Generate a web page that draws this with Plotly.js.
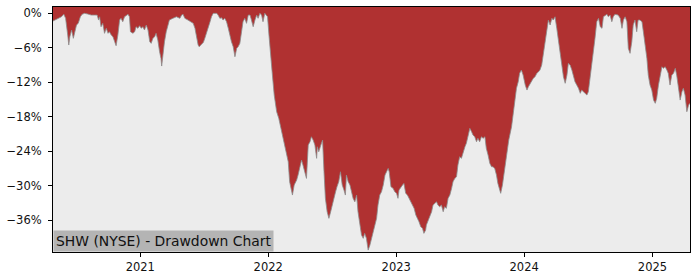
<!DOCTYPE html>
<html>
<head>
<meta charset="utf-8">
<script src="https://cdn.plot.ly/plotly-3.0.1.min.js"></script>
<style>html,body{margin:0;padding:0;background:#fff;}#chart{width:700px;height:280px;}</style>
</head>
<body>
<div id="chart"></div>
<script>
// Drawdown of SHW (NYSE), percent below running peak
const dates = [
"2020-04-27","2020-05-02","2020-05-11","2020-05-21","2020-05-28","2020-06-02","2020-06-08","2020-06-11","2020-06-14","2020-06-19",
"2020-06-24","2020-06-28","2020-07-03","2020-07-08","2020-07-14","2020-07-19","2020-07-26","2020-08-04","2020-08-14","2020-08-24",
"2020-08-31","2020-09-04","2020-09-07","2020-09-11","2020-09-16","2020-09-21","2020-09-26","2020-10-01","2020-10-05","2020-10-10",
"2020-10-15","2020-10-20","2020-10-24","2020-10-29","2020-11-03","2020-11-07","2020-11-12","2020-11-17","2020-11-22","2020-11-27",
"2020-12-01","2020-12-04","2020-12-11","2020-12-16","2020-12-20","2020-12-25","2020-12-30",
"2021-01-04","2021-01-08","2021-01-13","2021-01-18","2021-01-23","2021-01-28","2021-02-01","2021-02-06","2021-02-11","2021-02-15",
"2021-02-20","2021-02-25","2021-03-01","2021-03-03","2021-03-06","2021-03-11","2021-03-16","2021-03-21","2021-03-25","2021-04-04",
"2021-04-14","2021-04-24","2021-04-29","2021-05-03","2021-05-08","2021-05-17","2021-05-27","2021-06-01","2021-06-06","2021-06-10",
"2021-06-15","2021-06-18","2021-06-25","2021-06-30","2021-07-04","2021-07-09","2021-07-14","2021-07-19","2021-07-23","2021-07-28",
"2021-08-02","2021-08-07","2021-08-11","2021-08-16","2021-08-21","2021-08-25","2021-08-30","2021-09-04","2021-09-09","2021-09-13",
"2021-09-18","2021-09-23","2021-09-28","2021-10-03","2021-10-07","2021-10-12","2021-10-17","2021-10-21","2021-10-26","2021-10-31",
"2021-11-05","2021-11-10","2021-11-14","2021-11-19","2021-11-24","2021-11-29","2021-12-03","2021-12-08","2021-12-13","2021-12-17",
"2021-12-22","2021-12-27","2021-12-30",
"2022-01-03","2022-01-08","2022-01-12","2022-01-18","2022-01-25","2022-01-31","2022-02-06","2022-02-12","2022-02-17","2022-02-22",
"2022-02-27","2022-03-03","2022-03-08","2022-03-11","2022-03-16","2022-03-23","2022-03-27","2022-04-01","2022-04-06","2022-04-10",
"2022-04-15","2022-04-20","2022-04-25","2022-04-30","2022-05-04","2022-05-09","2022-05-14","2022-05-19","2022-05-21","2022-05-25",
"2022-05-31","2022-06-05","2022-06-09","2022-06-13","2022-06-18","2022-06-23","2022-06-28","2022-07-02","2022-07-07","2022-07-12",
"2022-07-16","2022-07-21","2022-07-26","2022-07-31","2022-08-05","2022-08-09","2022-08-12","2022-08-17","2022-08-22","2022-08-26",
"2022-08-31","2022-09-05","2022-09-10","2022-09-14","2022-09-19","2022-09-24","2022-09-29","2022-10-03","2022-10-08","2022-10-13",
"2022-10-18","2022-10-23","2022-10-27","2022-11-01","2022-11-06","2022-11-10","2022-11-15","2022-11-20","2022-11-25","2022-11-30",
"2022-12-04","2022-12-09","2022-12-12","2022-12-17","2022-12-23","2022-12-28",
"2023-01-02","2023-01-06","2023-01-09","2023-01-14","2023-01-19","2023-01-23","2023-01-28","2023-02-02","2023-02-07","2023-02-11",
"2023-02-16","2023-02-21","2023-02-26","2023-03-03","2023-03-07","2023-03-12","2023-03-17","2023-03-21","2023-03-26","2023-03-28",
"2023-04-02","2023-04-07","2023-04-12","2023-04-16","2023-04-21","2023-04-26","2023-04-30","2023-05-05","2023-05-10","2023-05-15",
"2023-05-19","2023-05-24","2023-05-29","2023-06-03","2023-06-08","2023-06-12","2023-06-17","2023-06-22","2023-06-26","2023-07-01",
"2023-07-06","2023-07-11","2023-07-16","2023-07-20","2023-07-25","2023-07-30","2023-08-04","2023-08-08","2023-08-13","2023-08-18",
"2023-08-22","2023-08-27","2023-09-01","2023-09-06","2023-09-11","2023-09-15","2023-09-20","2023-09-25","2023-09-30","2023-10-04",
"2023-10-09","2023-10-14","2023-10-18","2023-10-23","2023-10-26","2023-10-31","2023-11-05","2023-11-10","2023-11-18","2023-11-26",
"2023-12-05","2023-12-10","2023-12-15","2023-12-19","2023-12-24","2023-12-29",
"2024-01-04","2024-01-09","2024-01-13","2024-01-18","2024-01-23","2024-01-27","2024-02-01","2024-02-06","2024-02-11","2024-02-15",
"2024-02-20","2024-02-25","2024-03-01","2024-03-06","2024-03-10","2024-03-15","2024-03-20","2024-03-24","2024-03-29","2024-04-03",
"2024-04-08","2024-04-13","2024-04-17","2024-04-22","2024-04-27","2024-05-02","2024-05-06","2024-05-11","2024-05-16","2024-05-20",
"2024-05-25","2024-05-30","2024-06-04","2024-06-09","2024-06-13","2024-06-18","2024-06-23","2024-06-28","2024-07-02","2024-07-07",
"2024-07-12","2024-07-17","2024-07-21","2024-07-26","2024-07-31","2024-08-05","2024-08-10","2024-08-14","2024-08-19","2024-08-24",
"2024-08-28","2024-09-02","2024-09-07","2024-09-11","2024-09-16","2024-09-21","2024-09-25","2024-10-01","2024-10-06","2024-10-10",
"2024-10-15","2024-10-20","2024-10-24","2024-10-29","2024-11-03","2024-11-07","2024-11-12","2024-11-17","2024-11-21","2024-11-26",
"2024-12-02","2024-12-06","2024-12-11","2024-12-16","2024-12-20","2024-12-25","2024-12-30",
"2025-01-04","2025-01-09","2025-01-13","2025-01-18","2025-01-23","2025-01-28","2025-02-01","2025-02-06","2025-02-11","2025-02-15",
"2025-02-20","2025-02-25","2025-03-02","2025-03-07","2025-03-11","2025-03-16","2025-03-21","2025-03-26","2025-03-30","2025-04-04",
"2025-04-09","2025-04-14","2025-04-18"
];
const drawdown = [
-1.34,-1.17,-0.99,-0.60,-0.17,-0.87,-3.77,-5.51,-4.07,-2.90,
-4.35,-3.48,-2.03,-1.74,-0.60,-0.17,0,-0.12,-0.30,-0.30,
-0.30,-1.17,-0.60,-2.33,-1.74,-3.48,-2.61,-3.48,-3.20,-3.77,
-4.07,-4.94,-5.63,-3.77,-1.17,-0.87,-1.46,-0.60,-0.30,-0.17,
-0.60,-3.20,-3.48,-3.20,-2.33,-2.61,-2.16,
-2.61,-2.33,-2.90,-2.03,-2.90,-4.94,-5.22,-4.35,-4.07,-3.48,
-4.64,-6.68,-7.83,-9.17,-7.25,-4.94,-3.20,-2.03,-1.17,-0.87,
-0.60,-0.87,-0.30,-0.17,-0.87,-1.17,-1.46,-1.74,-2.61,-4.07,
-5.51,-5.81,-5.39,-5.04,-4.35,-3.48,-2.61,-1.46,-0.60,0,
0,0,-0.30,-0.87,-0.77,-1.17,-0.87,-1.46,-2.61,-3.77,
-4.94,-5.81,-7.55,-6.09,-5.81,-5.22,-3.20,-1.46,-0.87,-1.74,
-0.30,-0.30,-1.17,-2.33,-1.17,-0.30,-0.87,0,-0.30,-1.46,
0,-0.30,-0.60,
-3.77,-6.68,-10.16,-14.21,-17.11,-18.26,-20.00,-21.74,-23.48,-24.94,
-25.81,-29.29,-31.03,-31.60,-29.86,-28.99,-28.12,-26.96,-25.51,-26.38,
-27.55,-28.70,-22.90,-22.33,-21.46,-22.03,-22.90,-25.22,-23.20,-24.07,
-22.90,-22.03,-27.55,-32.17,-34.50,-35.65,-34.50,-33.34,-32.17,-31.03,
-30.16,-29.29,-27.55,-29.86,-30.73,-31.60,-28.12,-29.29,-29.86,-31.03,
-32.17,-32.77,-31.60,-34.50,-36.82,-38.56,-39.13,-38.26,-39.13,-41.17,
-40.30,-39.13,-37.98,-36.82,-35.65,-33.34,-31.60,-31.03,-29.86,-28.12,
-27.55,-26.96,-27.55,-30.16,-30.43,-31.03,
-31.30,-32.17,-30.73,-30.16,-29.86,-29.57,-31.30,-31.60,-32.17,-32.77,
-33.34,-33.91,-35.08,-35.65,-36.24,-37.11,-37.39,-38.26,-37.69,-36.82,
-35.95,-35.08,-34.50,-33.34,-33.04,-32.77,-33.34,-33.63,-33.34,-34.50,
-33.63,-33.91,-32.17,-31.60,-30.43,-29.29,-28.70,-28.42,-26.38,-24.94,
-25.22,-24.07,-23.20,-22.61,-21.17,-20.00,-20.59,-21.17,-21.46,-22.33,
-21.74,-22.33,-21.46,-21.74,-21.46,-23.48,-24.64,-26.09,-26.68,-26.68,
-26.96,-28.12,-29.57,-30.73,-31.30,-29.86,-27.55,-25.81,-22.03,-19.72,
-15.45,-13.04,-11.90,-10.43,-9.86,-10.73,
-12.47,-13.34,-12.77,-12.17,-11.60,-11.30,-11.03,-10.43,-10.16,-9.86,
-8.99,-6.68,-4.35,-2.33,-1.17,-2.03,-0.87,-1.17,-0.60,-2.61,
-4.94,-7.25,-9.57,-11.03,-12.17,-10.73,-8.70,-8.99,-9.86,-10.73,
-11.90,-12.47,-13.04,-13.91,-13.34,-13.63,-13.91,-14.21,-13.63,-11.30,
-8.99,-6.96,-4.35,-1.46,-0.87,-2.33,-2.61,-0.60,-0.30,-0.17,
-0.60,-0.30,-1.46,-0.60,-0.17,-0.30,-0.30,-0.87,-2.61,-1.17,
-0.60,-1.46,-6.09,-6.96,-4.94,-2.03,-1.17,-3.20,-1.17,-1.17,
-1.46,-3.20,-5.51,-7.83,-10.73,-12.47,-13.34,
-15.08,-15.65,-14.78,-12.47,-10.73,-9.29,-9.57,-9.29,-9.86,-10.43,
-12.47,-10.73,-10.43,-9.57,-10.73,-13.04,-15.08,-13.63,-13.04,-14.21,
-17.11,-15.95,-15.65
];
const yTicks = [0, -6, -12, -18, -24, -30, -36];
const yTickText = ["0%", "\u22126%", "\u221212%", "\u221218%", "\u221224%", "\u221230%", "\u221236%"];
const xTickVals = ["2021-01-01","2022-01-01","2023-01-01","2024-01-01","2025-01-01"];
const xTickText = ["2021","2022","2023","2024","2025"];
const chartLabel = "SHW (NYSE) - Drawdown Chart";

const FLOOR = -60; // helper baseline below visible range for the gray fill
const traces = [
  {x: dates, y: dates.map(() => FLOOR), type: "scatter", mode: "lines",
   line: {width: 0, color: "rgba(0,0,0,0)"}, hoverinfo: "skip", showlegend: false},
  {x: dates, y: drawdown, type: "scatter", mode: "lines", fill: "tonexty",
   fillcolor: "#ececec", line: {color: "#8c8c8c", width: 0.8}, showlegend: false}
];

const tickFont = {family: "DejaVu Sans, sans-serif", size: 11.5, color: "#111"};
const layout = {
  width: 700, height: 280,
  margin: {l: 53, r: 10, t: 7, b: 28, pad: 0},
  paper_bgcolor: "#ffffff",
  plot_bgcolor: "#b03131",
  showlegend: false,
  xaxis: {
    type: "date", range: ["2020-04-27", "2025-04-18"],
    tickvals: xTickVals, ticktext: xTickText,
    showgrid: false, zeroline: false,
    showline: true, linecolor: "#000", linewidth: 1, mirror: true,
    ticks: "outside", ticklen: 4, tickwidth: 1, tickcolor: "#000",
    tickfont: tickFont
  },
  yaxis: {
    range: [-41.5, 1.1],
    tickvals: yTicks, ticktext: yTickText,
    showgrid: false, zeroline: false,
    showline: true, linecolor: "#000", linewidth: 1, mirror: true,
    ticks: "outside", ticklen: 4, tickwidth: 1, tickcolor: "#000",
    ticklabelstandoff: 4,
    tickfont: tickFont
  },
  annotations: [{
    text: chartLabel, xref: "paper", yref: "paper", x: 0, y: 0,
    xanchor: "left", yanchor: "bottom", showarrow: false,
    bgcolor: "#b4b4b4", borderpad: 2, align: "left",
    font: {family: "DejaVu Sans, sans-serif", size: 13.9, color: "#111"}
  }]
};
Plotly.newPlot("chart", traces, layout, {staticPlot: true, displayModeBar: false});
</script>
</body>
</html>
